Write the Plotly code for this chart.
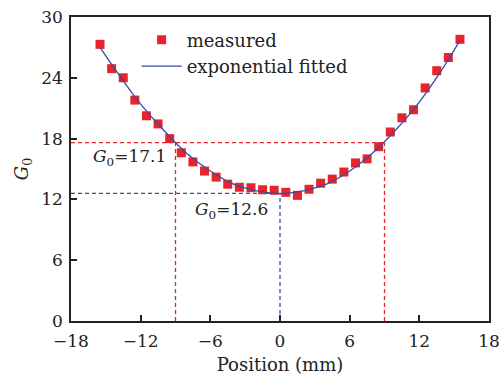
import plotly.graph_objects as go

# measured data
pos = [-15.5, -14.5, -13.5, -12.5, -11.5, -10.5, -9.5, -8.5, -7.5, -6.5, -5.5, -4.5,
       -3.5, -2.5, -1.5, -0.5, 0.5, 1.5, 2.5, 3.5, 4.5, 5.5, 6.5, 7.5, 8.5, 9.5,
       10.5, 11.5, 12.5, 13.5, 14.5, 15.5]
g0 = [27.3, 24.9, 24.0, 21.8, 20.25, 19.45, 18.0, 16.6, 15.7, 14.8, 14.2, 13.5,
      13.2, 13.15, 12.95, 12.9, 12.7, 12.4, 13.0, 13.6, 14.0, 14.7, 15.6, 16.0,
      17.2, 18.65, 20.05, 20.85, 23.0, 24.7, 26.0, 27.8]

# fitted curve
fit_x = [-15.5, -14, -12, -10, -8, -6, -4, -2, 0, 2, 4, 6, 8, 10, 12, 14, 15.5]
fit_y = [27.0, 24.5, 21.4, 18.8, 16.5, 14.8, 13.5, 12.85, 12.6, 12.85, 13.5, 14.8,
         16.6, 18.9, 21.6, 24.9, 27.7]

# reference lines
red_level = 17.6
red_x = [-9, 9]
blue_level = 12.6
blue_x = 0

x_ticks = [-18, -12, -6, 0, 6, 12, 18]
y_ticks = [0, 6, 12, 18, 24, 30]

FONT = "DejaVu Serif"
RED = "#ea2229"
BLUE = "#3050a8"
DASH = "4px,3px"

fig = go.Figure()

# dashed guide lines
fig.add_trace(go.Scatter(x=[-18, red_x[1]], y=[red_level, red_level], mode="lines",
                         line=dict(color=RED, width=1.3, dash=DASH), showlegend=False))
for xv in red_x:
    fig.add_trace(go.Scatter(x=[xv, xv], y=[0, red_level], mode="lines",
                             line=dict(color=RED, width=1.3, dash=DASH), showlegend=False))
fig.add_trace(go.Scatter(x=[-18, blue_x], y=[blue_level, blue_level], mode="lines",
                         line=dict(color=BLUE, width=1.3, dash=DASH), showlegend=False))
fig.add_trace(go.Scatter(x=[blue_x, blue_x], y=[0, blue_level], mode="lines",
                         line=dict(color=BLUE, width=1.3, dash=DASH), showlegend=False))

fig.add_trace(go.Scatter(x=pos, y=g0, mode="markers", name="measured",
                         marker=dict(symbol="square", size=9, color=RED, line=dict(width=0))))
fig.add_trace(go.Scatter(x=fit_x, y=fit_y, mode="lines", name="exponential fitted",
                         line=dict(color=BLUE, width=1.3, shape="spline")))

fig.add_annotation(x=-13.0, y=16.1, text="<i>G</i><sub>0</sub>=17.1",
                   showarrow=False, font=dict(family=FONT, size=17, color="#222"))
fig.add_annotation(x=-4.2, y=10.95, text="<i>G</i><sub>0</sub>=12.6",
                   showarrow=False, font=dict(family=FONT, size=17, color="#222"))

axis_common = dict(showline=True, linecolor="#222", linewidth=1.5, mirror=True,
                   ticks="inside", ticklen=6, tickwidth=1.5, tickcolor="#222",
                   showgrid=False, zeroline=False, automargin=False,
                   tickfont=dict(family=FONT, size=17, color="#222"))

fig.update_layout(
    width=503, height=379,
    margin=dict(l=71, r=14, t=17, b=58),
    paper_bgcolor="white", plot_bgcolor="white",
    font=dict(family=FONT, size=17, color="#222"),
    showlegend=True,
    legend=dict(x=0.157, y=0.985, xanchor="left", yanchor="top",
                bgcolor="rgba(0,0,0,0)", font=dict(family=FONT, size=18, color="#222"),
                tracegroupgap=0, itemwidth=40),
    xaxis=dict(range=[-18, 18], tickvals=x_ticks, ticklabelstandoff=4,
               title=dict(text="Position (mm)", font=dict(family=FONT, size=18), standoff=8),
               **axis_common),
    yaxis=dict(range=[0, 30], tickvals=y_ticks, ticklabelstandoff=3,
               title=dict(text="<i>G</i><sub>0</sub>", font=dict(family=FONT, size=18), standoff=8),
               **axis_common),
)

fig.write_html("out.html", config={"displayModeBar": False},
               post_script="document.body.style.margin='0';document.body.style.padding='0';")
